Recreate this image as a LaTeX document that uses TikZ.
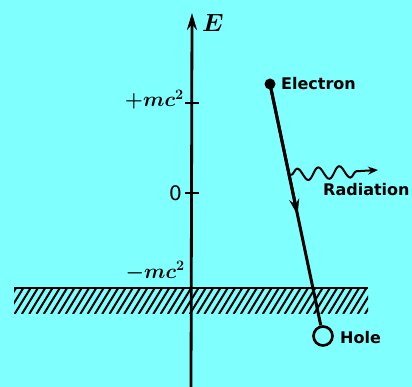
\documentclass[tikz,border=0pt]{standalone}
\usepackage{fontspec}
\newfontfamily\lab{DejaVu Sans}
\usetikzlibrary{arrows.meta,decorations.pathmorphing,calc}
\definecolor{bg}{RGB}{128,255,255}
\begin{document}
\begin{tikzpicture}[x=1pt,y=-1pt,
  axis/.style={line width=2.8pt},
  tick/.style={line width=1.8pt},
  hatch/.style={line width=2pt},
  mathlab/.style={inner sep=0pt,font=\fontsize{21}{21}\selectfont\boldmath},
  txt/.style={inner sep=0pt,anchor=west,font=\lab\bfseries\fontsize{16}{16}\selectfont},
  track/.style={line width=3pt},
  wave/.style={line width=2pt}
]
\useasboundingbox[fill=bg] (0,0) rectangle (412,387);
% axis
\coordinate (ab) at (191,387);
\coordinate (at) at (192,13);
\draw[axis,-{Stealth[length=17pt,width=10pt]}] (ab) -- (at);
\node[inner sep=0pt,anchor=base west,font=\fontsize{24}{24}\selectfont\boldmath] (E) at (202,32) {$E$};
% ticks
\coordinate (t1a) at (185,103); \coordinate (t1b) at (199,103);
\coordinate (t0a) at (185,193); \coordinate (t0b) at (199,193);
\draw[tick] (t1a) -- (t1b);
\draw[tick] (t0a) -- (t0b);
\node[mathlab,anchor=base east] (pmc) at (184,107) {$+mc^2$};
\node[inner sep=0pt,anchor=base east,font=\lab\fontsize{20}{20}\selectfont] (zero) at (182,201) {0};
\node[mathlab,anchor=base east] (mmc) at (185,278) {$-mc^2$};
% hatched band
\begin{scope}
\clip (14,289) rectangle (368,313);
\foreach \i in {0,...,52} {
  \draw[hatch] ({14+\i*7.3-14},314) -- ++(16,-26);
}
\end{scope}
\coordinate (bl) at (14,288); \coordinate (br) at (368,288);
\draw[line width=2.8pt] (bl) -- (br);
% electron track
\node[circle,fill=black,inner sep=0pt,minimum size=11pt] (el) at (270,84) {};
\node[circle,draw=black,line width=2.6pt,fill=bg,inner sep=0pt,minimum size=19pt] (hole) at (323,336) {};
\coordinate (mid) at ($(el.center)!0.52!(hole.center)$);
\draw[track] (el.center) -- (hole);
\draw[track,-{Stealth[length=16pt,width=10pt]}] (el.center) -- (mid);
% radiation
\coordinate (ws) at (291,175);
\coordinate (we) at (378,170);
\draw[wave,-{Stealth[length=10pt,width=8pt]},decorate,decoration={snake,segment length=21pt,amplitude=6pt,post length=18pt}] (ws) -- (we);
% labels
\node[txt] (tE) at (281,84) {Electron};
\node[txt] (tR) at (323,190) {Radiation};
\node[txt] (tH) at (340,338) {Hole};
\end{tikzpicture}
\end{document}
